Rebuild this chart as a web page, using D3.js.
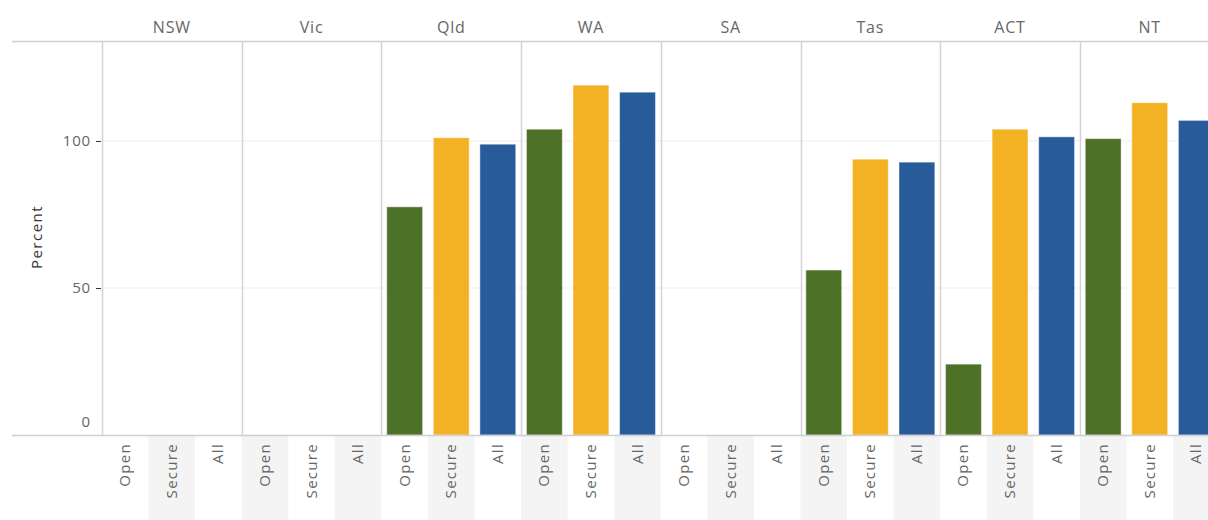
<!DOCTYPE html>
<html>
<head>
<meta charset="utf-8">
<script src="https://cdn.jsdelivr.net/npm/d3@7"></script>
<style>
  body { margin: 0; background: #fff; }
  svg { display: block; font-family: "Open Sans", "Noto Sans", sans-serif; }
</style>
</head>
<body>
<div id="chart"></div>
<script>
// states across the top, measure types inside each state
const states = ['NSW', 'Vic', 'Qld', 'WA', 'SA', 'Tas', 'ACT', 'NT'];
const types = ['Open', 'Secure', 'All'];
// percent values per state, in order Open, Secure, All (null = no data)
const openValues   = [null, null, 77.6, 104.0, null, 56.1, 24.1, 100.8];
const secureValues = [null, null, 101.1, 119.0, null, 93.8, 104.0, 113.0];
const allValues    = [null, null, 98.9, 116.6, null, 92.8, 101.4, 107.0];
const yTicks = [0, 50, 100];
const colors = { Open: '#4e7128', Secure: '#f3b124', All: '#285b9a' };

const w = 1208, h = 520;
const plotLeft = 102, plotTop = 41, plotBottom = 435;
const panelW = 139.7;

const svg = d3.select('#chart').append('svg')
  .attr('width', w).attr('height', h);

const x0 = d3.scaleBand().domain(states)
  .range([plotLeft, plotLeft + panelW * states.length]).padding(0);
const x1 = d3.scaleBand().domain(types)
  .range([0, x0.bandwidth()]).paddingInner(0.23).paddingOuter(0.115);
const xCol = d3.scaleBand().domain(types).range([0, x0.bandwidth()]);
const y = d3.scaleLinear().domain([0, 134]).range([plotBottom, plotTop]);

const data = [];
states.forEach((s, i) => {
  data.push({ state: s, type: 'Open', value: openValues[i] });
  data.push({ state: s, type: 'Secure', value: secureValues[i] });
  data.push({ state: s, type: 'All', value: allValues[i] });
});

// alternating shading under the axis
svg.append('g').selectAll('rect')
  .data(data.filter((d, i) => i % 2 === 1))
  .enter().append('rect')
  .attr('x', d => x0(d.state) + xCol(d.type))
  .attr('y', plotBottom)
  .attr('width', xCol.bandwidth())
  .attr('height', h - plotBottom)
  .attr('fill', '#f4f4f4');

// gridlines
svg.append('g').selectAll('line')
  .data(yTicks.filter(t => t > 0))
  .enter().append('line')
  .attr('x1', plotLeft).attr('x2', w)
  .attr('y1', d => y(d)).attr('y2', d => y(d))
  .attr('stroke', '#efefef').attr('stroke-width', 1);

// panel dividers
svg.append('g').selectAll('line')
  .data(states)
  .enter().append('line')
  .attr('x1', d => Math.round(x0(d)) + 0.5).attr('x2', d => Math.round(x0(d)) + 0.5)
  .attr('y1', plotTop).attr('y2', plotBottom)
  .attr('stroke', '#d4d4d4').attr('stroke-width', 1.5);

// bars
svg.append('g').selectAll('rect')
  .data(data.filter(d => d.value != null))
  .enter().append('rect')
  .attr('x', d => x0(d.state) + x1(d.type))
  .attr('y', d => y(d.value))
  .attr('width', x1.bandwidth())
  .attr('height', d => y(0) - y(d.value))
  .attr('fill', d => colors[d.type])
  .attr('stroke', 'rgba(255,255,255,0.45)')
  .attr('stroke-width', 1);

// header and baseline
svg.append('line')
  .attr('x1', 12).attr('x2', w).attr('y1', plotTop + 0.5).attr('y2', plotTop + 0.5)
  .attr('stroke', '#cfcfcf').attr('stroke-width', 1.5);
svg.append('line')
  .attr('x1', 12).attr('x2', w).attr('y1', plotBottom + 0.5).attr('y2', plotBottom + 0.5)
  .attr('stroke', '#cfcfcf').attr('stroke-width', 1.5);

// state labels
svg.append('g').selectAll('text')
  .data(states)
  .enter().append('text')
  .attr('x', d => x0(d) + x0.bandwidth() / 2)
  .attr('y', 33)
  .attr('text-anchor', 'middle')
  .attr('font-size', 16)
  .attr('letter-spacing', 0.8)
  .attr('fill', '#666')
  .text(d => d);

// type labels (rotated)
svg.append('g').selectAll('text')
  .data(data)
  .enter().append('text')
  .attr('transform', d => 'translate(' + (x0(d.state) + xCol(d.type) + xCol.bandwidth() / 2 + 5) + ',' + (plotBottom + 8) + ') rotate(-90)')
  .attr('text-anchor', 'end')
  .attr('font-size', 15)
  .attr('letter-spacing', 1.3)
  .attr('fill', '#666')
  .text(d => d.type);

// y axis
const yAxis = svg.append('g');
yAxis.selectAll('line')
  .data(yTicks.filter(t => t > 0))
  .enter().append('line')
  .attr('x1', 96).attr('x2', 101)
  .attr('y1', d => y(d) + 0.5).attr('y2', d => y(d) + 0.5)
  .attr('stroke', '#333');
yAxis.selectAll('text')
  .data(yTicks)
  .enter().append('text')
  .attr('x', 91)
  .attr('y', d => d === 0 ? y(d) - 8 : y(d) + 5)
  .attr('text-anchor', 'end')
  .attr('font-size', 15)
  .attr('letter-spacing', 0.8)
  .attr('fill', '#666')
  .text(d => d);

svg.append('text')
  .attr('transform', 'translate(42,' + 237 + ') rotate(-90)')
  .attr('text-anchor', 'middle')
  .attr('font-size', 15)
  .attr('letter-spacing', 1.5)
  .attr('fill', '#333')
  .text('Percent');
</script>
</body>
</html>
